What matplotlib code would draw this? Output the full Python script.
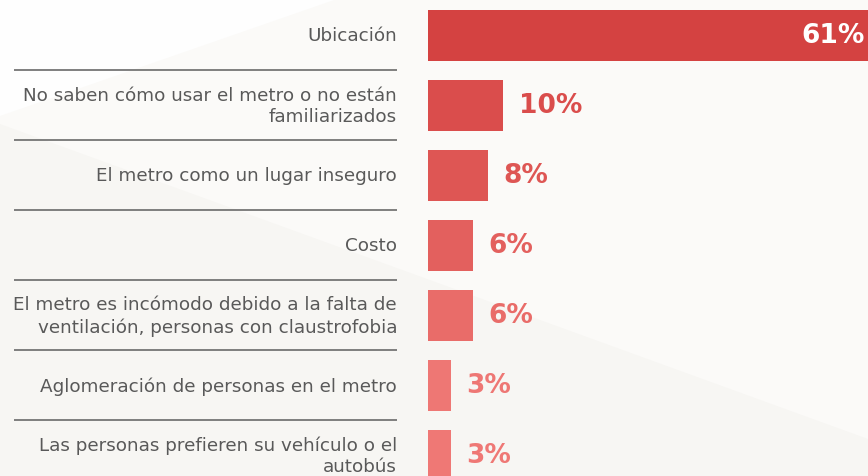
import numpy as np
import matplotlib.pyplot as plt
from matplotlib.patches import Polygon

plt.rcParams['font.family'] = ['DejaVu Sans']

categories = [
    "Ubicación",
    "No saben cómo usar el metro o no están\nfamiliarizados",
    "El metro como un lugar inseguro",
    "Costo",
    "El metro es incómodo debido a la falta de\nventilación, personas con claustrofobia",
    "Aglomeración de personas en el metro",
    "Las personas prefieren su vehículo o el\nautobús",
]
values = [61, 10, 8, 6, 6, 3, 3]
bar_colors = ["#D44241", "#DA4D4C", "#DE5654", "#E3605E",
              "#E96C69", "#EE7774", "#EF7875"]

W, H = 868, 477
fig = plt.figure(figsize=(W / 100, H / 100), dpi=100)
fig.patch.set_facecolor("#F7F6F3")

# background facets, in pixel coordinates of the figure
bg = fig.add_axes([0, 0, 1, 1])
bg.set_xlim(0, W)
bg.set_ylim(H, 0)
bg.axis("off")
bg.add_patch(Polygon([(0, 0), (W, 0), (W, 440), (0, 125)], closed=True,
                     color="#FBFAF8", lw=0))
bg.add_patch(Polygon([(0, 0), (337, 0), (0, 117)], closed=True,
                     color="#FEFEFE", lw=0))

ax = fig.add_axes([0, 0, 1, 1])
ax.patch.set_alpha(0)
ax.axis("off")

# 7.5 px per percent, bars start at x=428 px, rows 70 px apart
px = 7.5
x0 = 428
ax.set_xlim(-x0 / px, (W - x0) / px)
row = 70
top = 36.5
ax.set_ylim((H - top) / row, -top / row)

y = np.arange(len(values))
ax.barh(y, values, height=0.73, color=bar_colors, left=0)

label_x = (397 - x0) / px
line_x0 = (14 - x0) / px
for i, (cat, v, c) in enumerate(zip(categories, values, bar_colors)):
    ax.text(label_x, i, cat, ha="right", va="center", multialignment="right",
            fontsize=13.2, color="#595959", linespacing=1.25)
    if v > 30:
        ax.text((865 - x0) / px, i, f"{v}%", ha="right", va="center",
                fontsize=19, fontweight="bold", color="white")
    else:
        ax.text(v + 2.1, i, f"{v}%", ha="left", va="center",
                fontsize=19, fontweight="bold", color=c)
    if i < len(values) - 1:
        ax.plot([line_x0, label_x], [i + 0.49, i + 0.49],
                color="#6A6A6A", lw=1.2, solid_capstyle="butt")

fig.savefig("out.png", dpi=100, facecolor=fig.get_facecolor())
